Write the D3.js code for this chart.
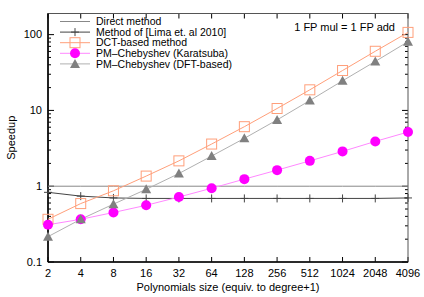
<!DOCTYPE html>
<html><head><meta charset="utf-8">
<script src="https://cdn.jsdelivr.net/npm/d3@7"></script>
<style>body{margin:0;background:#fff}svg{display:block;font-family:"Liberation Sans",Arial,sans-serif}</style>
</head><body><div id="chart"></div>
<script>
const sizes = [2,4,8,16,32,64,128,256,512,1024,2048,4096];
const direct = [1,1,1,1,1,1,1,1,1,1,1,1];
const lima = [0.83,0.74,0.70,0.69,0.69,0.69,0.69,0.69,0.69,0.69,0.69,0.70];
const dct = [0.366,0.59,0.87,1.36,2.16,3.6,6.1,10.6,18.7,33.6,60.3,107];
const karatsuba = [0.31,0.366,0.45,0.56,0.72,0.94,1.24,1.63,2.16,2.88,3.9,5.19];
const dft = [0.216,0.366,0.58,0.91,1.47,2.5,4.28,7.5,13.5,24.6,44.3,80.7];
const yTicks = [0.1,1,10,100];
const legendNames = ["Direct method","Method of [Lima et. al 2010]","DCT-based method","PM\u2013Chebyshev (Karatsuba)","PM\u2013Chebyshev (DFT-based)"];

const W=424,H=297;
const m={l:48,r:16,t:13.5,b:35};
const svg=d3.select("#chart").append("svg").attr("width",W).attr("height",H);
const x=d3.scaleLog().base(2).domain([2,4096]).range([m.l,W-m.r]);
const y=d3.scaleLog().domain([0.1,190]).range([H-m.b,m.t]);

const g=svg.append("g");
const minor=[];
for(let d=0.1;d<190;d*=10){for(let k=2;k<=9;k++){if(d*k<190)minor.push(d*k);}}
minor.forEach(v=>{
  g.append("line").attr("x1",m.l).attr("x2",m.l+3).attr("y1",y(v)).attr("y2",y(v)).attr("stroke","#000");
  g.append("line").attr("x1",W-m.r).attr("x2",W-m.r-3).attr("y1",y(v)).attr("y2",y(v)).attr("stroke","#000");
});
yTicks.forEach(v=>{
  g.append("line").attr("x1",m.l).attr("x2",m.l+6).attr("y1",y(v)).attr("y2",y(v)).attr("stroke","#000");
  g.append("line").attr("x1",W-m.r).attr("x2",W-m.r-6).attr("y1",y(v)).attr("y2",y(v)).attr("stroke","#000");
  g.append("text").attr("x",m.l-6).attr("y",y(v)).attr("dy","0.35em").attr("text-anchor","end").attr("font-size",11).text(v);
});
sizes.forEach(v=>{
  g.append("line").attr("x1",x(v)).attr("x2",x(v)).attr("y1",H-m.b).attr("y2",H-m.b-5).attr("stroke","#000");
  g.append("line").attr("x1",x(v)).attr("x2",x(v)).attr("y1",m.t).attr("y2",m.t+5).attr("stroke","#000");
  g.append("text").attr("x",x(v)).attr("y",H-m.b+15).attr("text-anchor","middle").attr("font-size",11).text(v);
});
svg.append("rect").attr("x",m.l).attr("y",m.t).attr("width",W-m.r-m.l).attr("height",H-m.b-m.t).attr("fill","none").attr("stroke","#555").attr("stroke-width",1);
svg.append("line").attr("x1",m.l).attr("x2",m.l).attr("y1",m.t).attr("y2",H-m.b).attr("stroke","#000").attr("stroke-width",1.6);
svg.append("line").attr("x1",m.l).attr("x2",W-m.r).attr("y1",H-m.b).attr("y2",H-m.b).attr("stroke","#000").attr("stroke-width",1.3);

svg.append("text").attr("transform",`translate(15,${(m.t+H-m.b)/2}) rotate(-90)`).attr("text-anchor","middle").attr("font-size",11).text("Speedup");
svg.append("text").attr("x",228).attr("y",291).attr("text-anchor","middle").attr("font-size",11).text("Polynomials size (equiv. to degree+1)");
svg.append("text").attr("x",395).attr("y",31).attr("text-anchor","end").attr("font-size",11).text("1 FP mul = 1 FP add");

const series=[
 {vals:direct,line:"#888",mark:null},
 {vals:lima,line:"#444",mark:"plus",mc:"#444"},
 {vals:dct,line:"#ff9f7a",mark:"square",mc:"#ff9f7a"},
 {vals:karatsuba,line:"#ff88ff",mark:"circle",mc:"#ff00ff"},
 {vals:dft,line:"#b0b0b0",mark:"tri",mc:"#808080"}
];
const line=d3.line().x((d,i)=>x(sizes[i])).y(d=>y(d));
function marker(sel,type,cx,cy,c){
  if(type==="plus"){
    sel.append("line").attr("x1",cx-4).attr("x2",cx+4).attr("y1",cy).attr("y2",cy).attr("stroke",c);
    sel.append("line").attr("x1",cx).attr("x2",cx).attr("y1",cy-4).attr("y2",cy+4).attr("stroke",c);
  } else if(type==="square"){
    sel.append("rect").attr("x",cx-5).attr("y",cy-5).attr("width",10).attr("height",10).attr("fill","none").attr("stroke",c);
  } else if(type==="circle"){
    sel.append("circle").attr("cx",cx).attr("cy",cy).attr("r",5).attr("fill",c);
  } else if(type==="tri"){
    sel.append("path").attr("d",`M${cx},${cy-5}L${cx+5},${cy+4}L${cx-5},${cy+4}Z`).attr("fill",c);
  }
}
const plot=svg.append("g");
series.forEach(s=>{
  plot.append("path").datum(s.vals).attr("d",line).attr("fill","none").attr("stroke",s.line).attr("stroke-width",1);
});
series.forEach(s=>{
  if(!s.mark)return;
  s.vals.forEach((v,i)=>marker(plot,s.mark,x(sizes[i]),y(v),s.mc));
});
const lg=svg.append("g");
legendNames.forEach((n,i)=>{
  const yy=21.5+i*10.6;
  lg.append("line").attr("x1",60).attr("x2",90).attr("y1",yy).attr("y2",yy).attr("stroke",series[i].line);
  if(series[i].mark)marker(lg,series[i].mark,75,yy,series[i].mc);
  lg.append("text").attr("x",96).attr("y",yy).attr("dy","0.35em").attr("font-size",10.5).text(n);
});
</script></body></html>
